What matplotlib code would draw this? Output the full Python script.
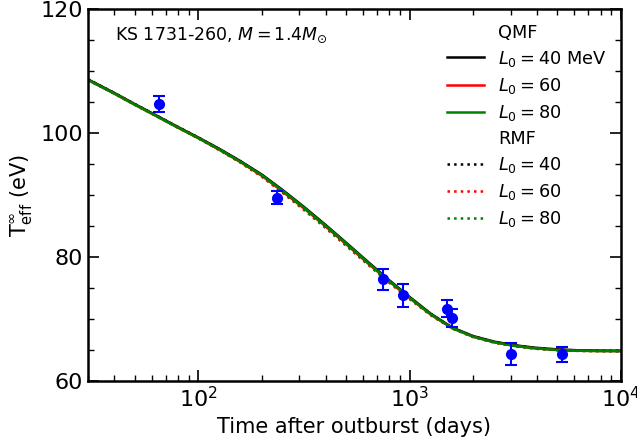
import matplotlib
matplotlib.use("Agg")
import matplotlib.pyplot as plt
from matplotlib.lines import Line2D
from matplotlib.ticker import MultipleLocator

# observations (days, eV)
t_obs = [65, 235, 751, 929, 1500, 1584, 3020, 5275]
T_obs = [104.7, 89.6, 76.4, 73.8, 71.7, 70.2, 64.4, 64.3]
T_err = [1.3, 1.0, 1.75, 1.9, 1.3, 1.5, 1.8, 1.25]

# cooling curves
t_mod = [30, 40, 50, 63, 79, 100, 126, 158, 200, 251, 316, 398, 501, 631, 794,
         1000, 1259, 1585, 1995, 2512, 3162, 3981, 5012, 6310, 7943, 10000]
qmf40 = [108.7, 106.5, 104.7, 102.9, 101.1, 99.3, 97.45, 95.5, 93.3, 90.8, 88.1, 85.25, 82.3, 79.3, 76.35,
         73.55, 70.85, 68.65, 67.25, 66.35, 65.75, 65.35, 65.1, 64.95, 64.9, 64.88]
qmf60 = [108.6, 106.4, 104.6, 102.8, 101.0, 99.2, 97.3, 95.35, 93.1, 90.55, 87.85, 85.0, 82.05, 79.05, 76.15,
         73.35, 70.7, 68.55, 67.15, 66.25, 65.65, 65.25, 65.0, 64.88, 64.84, 64.82]
qmf80 = [108.6, 106.4, 104.6, 102.8, 101.0, 99.2, 97.35, 95.4, 93.2, 90.7, 88.0, 85.15, 82.2, 79.2, 76.25,
         73.45, 70.75, 68.55, 67.15, 66.25, 65.65, 65.25, 65.0, 64.88, 64.84, 64.82]
rmf40 = [108.7, 106.5, 104.7, 102.9, 101.1, 99.3, 97.4, 95.45, 93.2, 90.65, 87.95, 85.1, 82.15, 79.15, 76.25,
         73.45, 70.8, 68.6, 67.2, 66.3, 65.7, 65.3, 65.05, 64.92, 64.88, 64.86]
rmf60 = [108.6, 106.4, 104.6, 102.8, 101.0, 99.15, 97.25, 95.25, 92.95, 90.35, 87.6, 84.75, 81.8, 78.85, 75.95,
         73.2, 70.6, 68.5, 67.1, 66.2, 65.6, 65.2, 64.98, 64.86, 64.82, 64.8]
rmf80 = [108.6, 106.4, 104.6, 102.8, 101.0, 99.2, 97.3, 95.3, 93.05, 90.45, 87.7, 84.85, 81.9, 78.95, 76.05,
         73.3, 70.65, 68.5, 67.1, 66.2, 65.6, 65.2, 64.98, 64.86, 64.82, 64.8]

fig, ax = plt.subplots(figsize=(6.37, 4.43), dpi=100)
fig.subplots_adjust(left=0.138, right=0.975, top=0.979, bottom=0.14)

lw = 1.8
ax.plot(t_mod, qmf40, color='black', lw=lw)
ax.plot(t_mod, qmf60, color='red', lw=lw)
ax.plot(t_mod, rmf40, color='black', lw=lw, ls=':')
ax.plot(t_mod, rmf60, color='red', lw=lw, ls=':')
ax.plot(t_mod, rmf80, color='green', lw=lw, ls=':')
ax.plot(t_mod, qmf80, color='green', lw=lw)

ax.errorbar(t_obs, T_obs, yerr=T_err, fmt='o', color='blue', ms=7,
            elinewidth=1.5, capsize=4, capthick=1.5, zorder=5)

ax.set_xscale('log')
ax.set_xlim(30, 1e4)
ax.set_ylim(60, 120)
ax.yaxis.set_major_locator(MultipleLocator(20))
ax.yaxis.set_minor_locator(MultipleLocator(5))
ax.tick_params(which='both', direction='in', top=True, right=True, labelsize=16)
ax.tick_params(which='major', length=8, width=1.2)
ax.tick_params(which='minor', length=4, width=1)
for s in ax.spines.values():
    s.set_linewidth(1.8)

ax.set_xlabel('Time after outburst (days)', fontsize=15)
ax.set_ylabel(r'T$_{\rm eff}^{\infty}$ (eV)', fontsize=15)

ax.text(0.05, 0.93, r'KS 1731-260, $M=1.4M_{\odot}$', transform=ax.transAxes,
        fontsize=12.5, va='center')

blank = Line2D([], [], ls='none')
handles = [blank,
           Line2D([], [], color='black', lw=lw),
           Line2D([], [], color='red', lw=lw),
           Line2D([], [], color='green', lw=lw),
           blank,
           Line2D([], [], color='black', lw=lw, ls=':'),
           Line2D([], [], color='red', lw=lw, ls=':'),
           Line2D([], [], color='green', lw=lw, ls=':')]
labels = ['QMF', r'$L_0=40$ MeV', r'$L_0=60$', r'$L_0=80$',
          'RMF', r'$L_0=40$', r'$L_0=60$', r'$L_0=80$']
ax.legend(handles, labels, loc='upper right', frameon=False, fontsize=12.8,
          handlelength=2.1, labelspacing=0.4, borderaxespad=0.4)

fig.savefig('out.png', dpi=100)
